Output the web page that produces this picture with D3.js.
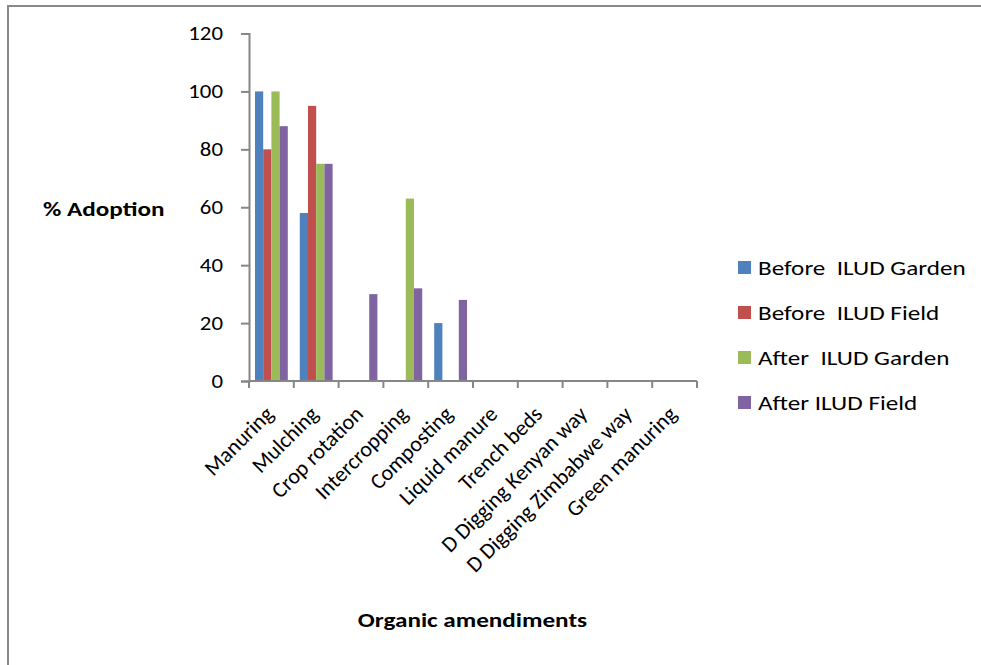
<!DOCTYPE html>
<html>
<head>
<meta charset="utf-8">
<script src="https://cdn.jsdelivr.net/npm/d3@7"></script>
<style>
  html, body { margin: 0; padding: 0; background: #fff; }
  svg { display: block; }
  text { font-family: Carlito, Calibri, Lato, "Open Sans", sans-serif; fill: #000; }
</style>
</head>
<body>
<svg id="chart" width="981" height="665"></svg>
<script>
// Adoption of organic amendments before / after ILUD
const categories = ["Manuring", "Mulching", "Crop rotation", "Intercropping", "Composting",
  "Liquid manure", "Trench beds", "D Digging Kenyan way", "D Digging Zimbabwe way", "Green manuring"];
const seriesNames = ["Before  ILUD Garden", "Before  ILUD Field", "After  ILUD Garden", "After ILUD Field"];
const beforeGarden = [100, 58, 0, 0, 20, 0, 0, 0, 0, 0];
const beforeField  = [80, 95, 0, 0, 0, 0, 0, 0, 0, 0];
const afterGarden  = [100, 75, 0, 63, 0, 0, 0, 0, 0, 0];
const afterField   = [88, 75, 30, 32, 28, 0, 0, 0, 0, 0];
const yTicks = [0, 20, 40, 60, 80, 100, 120];
const colors = ["#4f81bd", "#c0504d", "#9bbb59", "#8064a2"];

const seriesValues = [beforeGarden, beforeField, afterGarden, afterField];

// horizontal text is drawn a little wide
const textStretch = 1.29;
const digitStretch = 1.17;

const svg = d3.select("#chart");

// outer frame
svg.append("rect")
  .attr("x", 8).attr("y", 6).attr("width", 990).attr("height", 680)
  .attr("fill", "none").attr("stroke", "#898989").attr("stroke-width", 2);

const plot = { left: 249, right: 697, top: 33.5, bottom: 381 };

const x = d3.scaleBand().domain(categories).range([plot.left, plot.right]).paddingInner(0).paddingOuter(0);
const xs = d3.scaleBand().domain(d3.range(seriesNames.length))
  .range([0, x.bandwidth()]).paddingOuter(0.73).paddingInner(0);
const y = d3.scaleLinear().domain([0, 120]).range([plot.bottom, plot.top]);

// bars
const groups = svg.append("g").selectAll("g")
  .data(categories)
  .join("g")
  .attr("transform", d => `translate(${x(d)},0)`);

groups.selectAll("rect")
  .data((c, i) => seriesValues.map((vals, s) => ({ s, v: vals[i] })))
  .join("rect")
  .filter(d => d.v > 0)
  .attr("x", d => xs(d.s))
  .attr("width", xs.bandwidth())
  .attr("y", d => y(d.v))
  .attr("height", d => y(0) - y(d.v))
  .attr("fill", d => colors[d.s]);

// y axis
const yAxis = svg.append("g")
  .attr("transform", `translate(${plot.left},0)`)
  .call(d3.axisLeft(y).tickValues(yTicks).tickSize(8).tickPadding(18).tickFormat(d3.format("d")));
yAxis.select(".domain").attr("stroke", "#868686").attr("stroke-width", 2);
yAxis.selectAll(".tick line").attr("stroke", "#868686").attr("stroke-width", 2);
yAxis.selectAll(".tick text")
  .attr("transform", `translate(-26,0) scale(${digitStretch},1)`)
  .attr("x", 0)
  .style("font-size", "19.5px").attr("fill", "#000");

// x axis
const xAxisG = svg.append("g").attr("transform", `translate(0,${plot.bottom})`);
xAxisG.append("line")
  .attr("x1", plot.left).attr("x2", plot.right)
  .attr("stroke", "#868686").attr("stroke-width", 2);
const xTickPos = categories.map(c => x(c)).concat([plot.right]);
xAxisG.selectAll("line.tk")
  .data(xTickPos)
  .join("line")
  .attr("class", "tk")
  .attr("x1", d => d).attr("x2", d => d)
  .attr("y1", 0).attr("y2", 7)
  .attr("stroke", "#868686").attr("stroke-width", 2);

xAxisG.selectAll("text.cat")
  .data(categories)
  .join("text")
  .attr("class", "cat")
  .attr("transform", d => `translate(${x(d) + x.bandwidth() / 2 - 2},${29}) rotate(-45)`)
  .attr("text-anchor", "end")
  .attr("dy", "0.35em")
  .style("font-size", "22px")
  .text(d => d);

// axis titles
svg.append("text")
  .attr("transform", `translate(43,216) scale(${textStretch},1)`)
  .style("font-size", "19.5px").style("font-weight", "bold")
  .text("% Adoption");

svg.append("text")
  .attr("transform", `translate(472.5,627) scale(${textStretch},1)`)
  .attr("text-anchor", "middle")
  .style("font-size", "19.5px").style("font-weight", "bold")
  .text("Organic amendiments");

// legend
const legend = svg.append("g").attr("transform", "translate(738,268)");
const items = legend.selectAll("g")
  .data(seriesNames)
  .join("g")
  .attr("transform", (d, i) => `translate(0,${i * 45})`);
items.append("rect")
  .attr("x", 0).attr("y", -7).attr("width", 13).attr("height", 13)
  .attr("fill", (d, i) => colors[i]);
items.append("text")
  .attr("transform", `translate(20,0) scale(${textStretch},1)`)
  .attr("dy", "0.35em")
  .style("font-size", "19.5px")
  .attr("xml:space", "preserve")
  .text(d => d);
</script>
</body>
</html>
